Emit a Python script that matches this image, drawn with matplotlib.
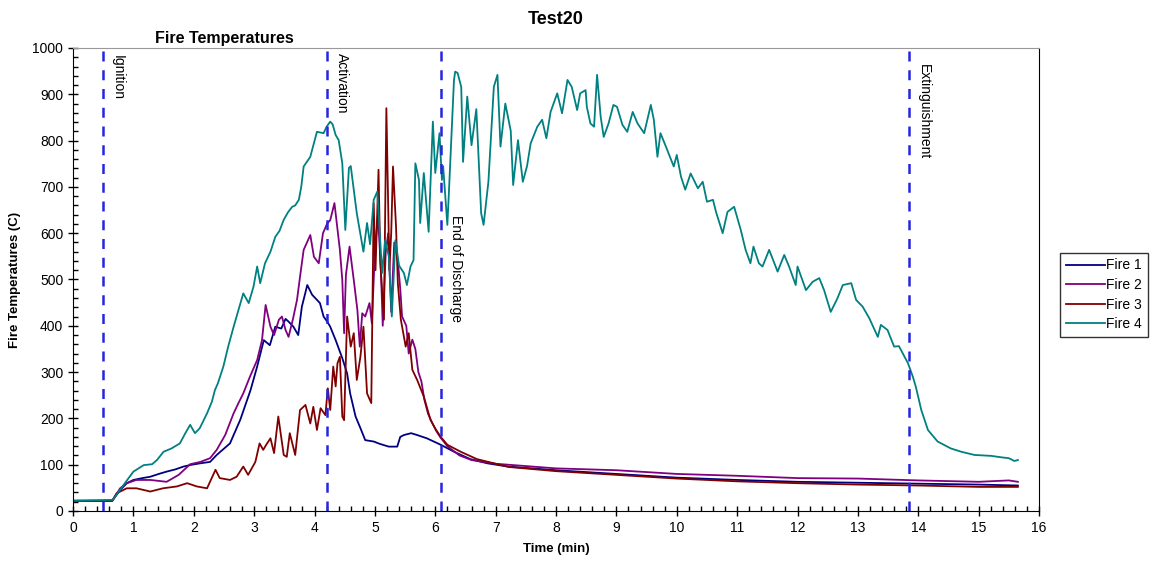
import matplotlib
matplotlib.use("Agg")
import matplotlib.pyplot as plt
from matplotlib.ticker import MultipleLocator

plt.rcParams['font.family'] = ['Liberation Sans', 'DejaVu Sans']

# Fire 1 (bleu marine)
t_fire1 = [0.0, 0.65, 0.78, 0.89, 1.0, 1.15, 1.28, 1.42, 1.55, 1.7, 1.83, 1.97, 2.11, 2.27, 2.38,
           2.6, 2.77, 2.94, 3.05, 3.16, 3.26, 3.35, 3.45, 3.52, 3.57, 3.65, 3.73, 3.79,
           3.88, 3.96, 4.04, 4.09, 4.15, 4.21, 4.26, 4.35, 4.46, 4.54, 4.59, 4.68, 4.76,
           4.84, 4.98, 5.08, 5.23, 5.37, 5.42, 5.48, 5.6, 5.7, 5.86, 6.09, 6.31, 6.58,
           6.86, 7.2, 8.0, 9.0, 10.0, 11.0, 12.0, 13.0, 14.0, 15.0, 15.65]
fire1 = [22, 22, 45, 60, 67, 71, 74, 80, 85, 90, 96, 100, 103, 106, 121,
         146, 197, 261, 312, 369, 358, 398, 394, 415, 409, 398, 380, 441,
         488, 467, 456, 449, 420, 409, 398, 369, 330, 297, 254, 204, 179,
         153, 150, 145, 139, 139, 160, 164, 168, 164, 157, 143, 128, 112,
         103, 96, 88, 80, 72, 67, 63, 61, 59, 57, 55]

# Fire 2 (violet)
t_fire2 = [0.0, 0.65, 0.78, 0.89, 1.05, 1.28, 1.55, 1.75, 1.94, 2.11, 2.27, 2.38, 2.52, 2.66,
           2.74, 2.82, 2.93, 3.05, 3.13, 3.19, 3.27, 3.33, 3.41, 3.46, 3.52, 3.57,
           3.64, 3.71, 3.76, 3.82, 3.93, 3.99, 4.07, 4.14, 4.21, 4.26, 4.33, 4.37, 4.42,
           4.46, 4.49, 4.52, 4.58, 4.65, 4.71, 4.75, 4.79, 4.84, 4.91, 4.95, 5.0, 5.05,
           5.1, 5.13, 5.18, 5.22, 5.27, 5.32, 5.38, 5.42, 5.45, 5.52, 5.56, 5.62, 5.67,
           5.72, 5.77, 5.82, 5.88, 5.95, 6.02, 6.09, 6.2, 6.4, 6.6, 7.0, 8.0, 9.0, 10.0,
           11.0, 12.0, 13.0, 14.0, 15.0, 15.5, 15.65]
fire2 = [22, 22, 49, 60, 67, 67, 63, 78, 101, 106, 114, 132, 164, 211,
         233, 254, 290, 326, 369, 445, 398, 380, 413, 420, 391, 376,
         413, 456, 506, 564, 596, 549, 535, 600, 621, 628, 665, 620, 564,
         499, 384, 510, 571, 499, 434, 355, 427, 420, 449, 405, 560, 640,
         520, 400, 560, 600, 430, 580, 540, 480, 420, 400, 340, 370, 350,
         300, 280, 240, 210, 190, 172, 158, 140, 120, 110, 102, 92, 88, 80,
         76, 71, 70, 66, 63, 66, 63]

# Fire 3 (rouge foncé)
t_fire3 = [0.0, 0.65, 0.72, 0.89, 1.05, 1.28, 1.49, 1.72, 1.89, 2.05, 2.22, 2.36, 2.43, 2.6,
           2.71, 2.82, 2.9, 3.02, 3.09, 3.15, 3.2, 3.27, 3.33, 3.4, 3.49, 3.54, 3.59,
           3.68, 3.76, 3.85, 3.93, 3.98, 4.04, 4.1, 4.18, 4.22, 4.26, 4.31, 4.35, 4.38,
           4.42, 4.46, 4.49, 4.54, 4.6, 4.65, 4.7, 4.76, 4.81, 4.87, 4.94, 4.98, 5.01,
           5.06, 5.09, 5.15, 5.19, 5.24, 5.27, 5.3, 5.35, 5.38, 5.43, 5.51, 5.56, 5.62,
           5.7, 5.81, 5.92, 6.0, 6.09, 6.2, 6.42, 6.69, 6.97, 7.22, 8.0, 9.0, 10.0, 11.0,
           12.0, 13.0, 14.0, 15.0, 15.65]
fire3 = [22, 22, 38, 49, 49, 42, 49, 53, 60, 53, 49, 89, 71, 67,
         74, 96, 78, 106, 146, 132, 143, 157, 125, 204, 121, 117, 168,
         121, 218, 229, 189, 225, 175, 222, 207, 265, 218, 312, 269, 319,
         333, 204, 196, 420, 355, 384, 283, 333, 398, 254, 233, 665, 520,
         737, 535, 413, 870, 520, 600, 744, 614, 492, 413, 355, 384, 305,
         283, 247, 197, 178, 160, 143, 128, 112, 103, 95, 86, 78, 70, 64,
         60, 57, 55, 52, 52]

# Fire 4 (bleu-vert)
t_fire4 = [0.0, 0.66, 0.92, 1.0, 1.17, 1.31, 1.39, 1.5, 1.63, 1.77, 1.86, 1.94, 2.02, 2.1,
           2.22, 2.3, 2.35, 2.4, 2.49, 2.57, 2.66, 2.74, 2.82, 2.91, 2.99, 3.05, 3.1,
           3.18, 3.27, 3.35, 3.42, 3.49, 3.56, 3.63, 3.68, 3.74, 3.78, 3.82, 3.93,
           4.04, 4.15, 4.2, 4.26, 4.3, 4.35, 4.4, 4.46, 4.51, 4.57, 4.6, 4.7, 4.81, 4.87,
           4.92, 4.98, 5.04, 5.12, 5.17, 5.23, 5.28, 5.34, 5.4, 5.48, 5.53, 5.59, 5.64,
           5.67, 5.73, 5.75, 5.81, 5.89, 5.96, 6.0, 6.07, 6.11, 6.13, 6.2, 6.22, 6.31,
           6.33, 6.37, 6.43, 6.46, 6.53, 6.6, 6.68, 6.76, 6.8, 6.88, 6.97, 7.03, 7.08,
           7.16, 7.25, 7.29, 7.37, 7.45, 7.52, 7.58, 7.69, 7.77, 7.84, 7.91, 8.02, 8.1,
           8.19, 8.26, 8.35, 8.4, 8.49, 8.51, 8.57, 8.63, 8.68, 8.74, 8.79, 8.87, 8.95,
           9.01, 9.1, 9.18, 9.27, 9.35, 9.46, 9.57, 9.62, 9.68, 9.73, 9.82, 9.95, 10.0,
           10.07, 10.14, 10.23, 10.35, 10.43, 10.5, 10.6, 10.65, 10.76, 10.84, 10.95,
           11.06, 11.14, 11.22, 11.27, 11.36, 11.42, 11.53, 11.67, 11.78, 11.86, 11.97,
           12.0, 12.14, 12.25, 12.36, 12.44, 12.55, 12.66, 12.75, 12.89, 12.97, 13.08,
           13.19, 13.33, 13.38, 13.49, 13.6, 13.68, 13.83, 13.91, 13.96, 14.05, 14.16,
           14.32, 14.54, 14.71, 14.93, 15.21, 15.37, 15.5, 15.59, 15.65]
fire4 = [22, 24, 71, 85, 99, 101, 110, 128, 135, 146, 168, 186, 168, 179,
         211, 236, 261, 276, 312, 355, 398, 434, 470, 449, 485, 528, 492,
         535, 560, 592, 605, 629, 645, 657, 660, 672, 700, 744, 765,
         819, 816, 830, 841, 835, 812, 801, 751, 607, 741, 745, 643, 560, 622,
         576, 672, 690, 514, 585, 550, 420, 585, 530, 514, 488, 528, 542,
         751, 715, 622, 730, 603, 841, 730, 816, 715, 745, 618, 672, 931,
         949, 946, 916, 754, 895, 790, 868, 643, 618, 711, 916, 942, 787,
         880, 821, 704, 801, 711, 745, 794, 830, 845, 805, 862, 902, 859,
         931, 916, 866, 902, 909, 873, 837, 830, 942, 851, 808, 837, 877,
         873, 834, 819, 862, 837, 816, 877, 845, 765, 816, 787, 744, 769,
         722, 694, 729, 697, 711, 668, 672, 646, 600, 646, 657,
         607, 564, 535, 571, 535, 528, 564, 517, 553, 528, 488,
         528, 477, 495, 503, 477, 430, 459, 488, 492, 456, 441,
         416, 376, 402, 391, 355, 356, 319, 290, 268, 218, 175,
         150, 135, 128, 121, 119, 116, 114, 108, 110]

# Événements (min)
evenements = ["Ignition", "Activation", "End of Discharge", "Extinguishment"]
t_evenements = [0.5, 4.21, 6.09, 13.85]
y_textes = [985, 990, 640, 965]

series = [("Fire 1", t_fire1, fire1, "#000080"),
          ("Fire 2", t_fire2, fire2, "#800080"),
          ("Fire 3", t_fire3, fire3, "#800000"),
          ("Fire 4", t_fire4, fire4, "#008080")]

fig = plt.figure(figsize=(11.5, 5.68), dpi=100)
ax = fig.add_axes([0.0635, 0.1004, 0.84, 0.8151])

for nom, t, y, couleur in series:
    ax.plot(t, y, color=couleur, lw=1.3, label=nom)

for nom, tx, yt in zip(evenements, t_evenements, y_textes):
    ax.axvline(tx, color="#2525dd", lw=1.8, ls=(0, (4, 3.5)))
    ax.text(tx + 0.13, yt, nom, rotation=-90, ha="left", va="top", fontsize=10)

ax.set_xlim(0, 16)
ax.set_ylim(0, 1000)
ax.xaxis.set_major_locator(MultipleLocator(1))
ax.xaxis.set_minor_locator(MultipleLocator(0.2))
ax.yaxis.set_major_locator(MultipleLocator(100))
ax.yaxis.set_minor_locator(MultipleLocator(20))
ax.tick_params(which="major", direction="inout", length=7, width=1, labelsize=10)
ax.tick_params(which="minor", direction="in", length=3.5, width=1)
ax.spines["top"].set_color("#999999")
for s in ("left", "bottom", "right"):
    ax.spines[s].set_color("black")

ax.set_xlabel("Time (min)", fontsize=9.5, fontweight="bold", labelpad=6)
ax.set_ylabel("Fire Temperatures (C)", fontsize=9.5, fontweight="bold", labelpad=8)

fig.text(0.483, 0.965, "Test20", fontsize=13, fontweight="bold", ha="center", va="center")
fig.text(0.195, 0.932, "Fire Temperatures", fontsize=11.5, fontweight="bold", ha="center", va="center")

leg = fig.legend(loc="center", bbox_to_anchor=(0.96, 0.481), fontsize=10, frameon=True,
                 fancybox=False, edgecolor="black", handlelength=2.8, handletextpad=0.1,
                 borderpad=0.4, labelspacing=0.4, borderaxespad=0)
leg.get_frame().set_linewidth(1.0)

fig.savefig("out.png", dpi=100)
